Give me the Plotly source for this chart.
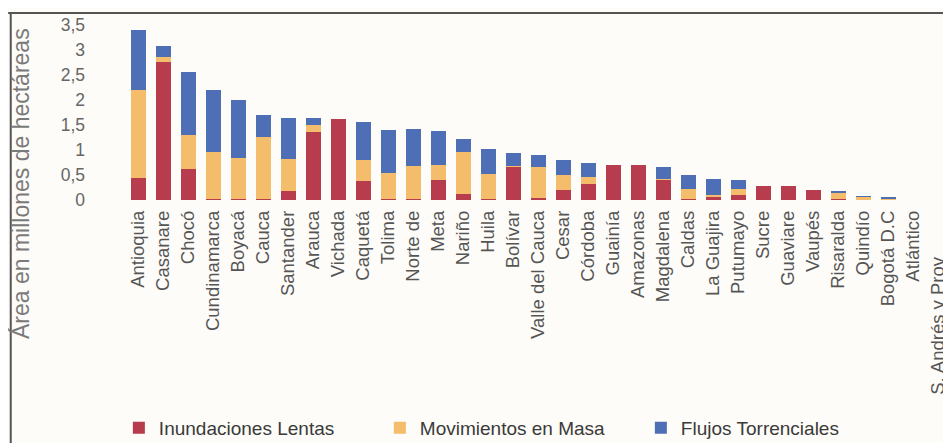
import plotly.graph_objects as go

departamentos = ["Antioquia", "Casanare", "Chocó", "Cundinamarca", "Boyacá", "Cauca",
                 "Santander", "Arauca", "Vichada", "Caquetá", "Tolima", "Norte de",
                 "Meta", "Nariño", "Huila", "Bolívar", "Valle del Cauca", "Cesar",
                 "Córdoba", "Guainía", "Amazonas", "Magdalena", "Caldas", "La Guajira",
                 "Putumayo", "Sucre", "Guaviare", "Vaupés", "Risaralda", "Quindío",
                 "Bogotá D.C", "Atlántico", "S. Andrés y Prov"]

inundaciones = [0.45, 2.77, 0.63, 0.03, 0.02, 0.02, 0.19, 1.37, 1.63, 0.39, 0.03, 0.02,
                0.40, 0.12, 0.02, 0.67, 0.04, 0.20, 0.33, 0.70, 0.70, 0.40, 0.02, 0.07,
                0.10, 0.29, 0.29, 0.20, 0.02, 0.01, 0.01, 0, 0]
movimientos = [1.75, 0.10, 0.68, 0.94, 0.83, 1.25, 0.64, 0.13, 0, 0.42, 0.52, 0.66,
               0.30, 0.85, 0.51, 0.02, 0.63, 0.30, 0.14, 0, 0, 0.02, 0.21, 0.03,
               0.13, 0, 0, 0, 0.12, 0.05, 0.02, 0, 0]
flujos = [1.21, 0.22, 1.26, 1.23, 1.16, 0.43, 0.82, 0.15, 0, 0.76, 0.86, 0.75,
          0.68, 0.25, 0.50, 0.26, 0.23, 0.31, 0.28, 0, 0, 0.25, 0.27, 0.33,
          0.18, 0, 0, 0, 0.05, 0.02, 0.02, 0, 0]

y_ticks = [0, 0.5, 1, 1.5, 2, 2.5, 3, 3.5]
y_ticktext = ["0", "0,5", "1", "1,5", "2", "2,5", "3", "3,5"]

# last label sits lower in the original: pad its end (top, once rotated) with no-break spaces
x_ticktext = departamentos[:-1] + [departamentos[-1] + "\u00a0" * 9]

FONT = "Liberation Sans, Arial, sans-serif"
BG = "#fdfcf8"

fig = go.Figure()
fig.add_trace(go.Bar(x=departamentos, y=inundaciones, name="Inundaciones Lentas",
                     marker=dict(color="#b73c4d", line=dict(width=0))))
fig.add_trace(go.Bar(x=departamentos, y=movimientos, name="Movimientos en Masa",
                     marker=dict(color="#f3bd6c", line=dict(width=0))))
fig.add_trace(go.Bar(x=departamentos, y=flujos, name="Flujos Torrenciales",
                     marker=dict(color="#4e6eb6", line=dict(width=0))))

# frame of the scanned chart (top and left edges)
fig.add_shape(type="line", xref="paper", yref="paper", x0=-0.09, x1=1.0, y0=1.0, y1=1.0,
              line=dict(color="#555555", width=2))
fig.add_shape(type="line", xref="paper", yref="paper", x0=-0.087, x1=-0.087, y0=1.0, y1=-1.4,
              line=dict(color="#555555", width=2))

fig.add_annotation(text="Área en millones de hectáreas", xref="paper", yref="paper",
                   x=-0.075, y=0.086, textangle=-90, showarrow=False,
                   xanchor="center", yanchor="middle",
                   font=dict(size=23, color="#7a7a7a", family=FONT))

fig.update_layout(
    barmode="stack",
    bargap=0.4,
    width=943,
    height=435,
    margin=dict(l=78, r=0, t=5, b=243, autoexpand=False),
    paper_bgcolor=BG,
    plot_bgcolor=BG,
    font=dict(family=FONT, color="#555555"),
    showlegend=True,
    legend=dict(orientation="h", x=0.038, y=-1.219, xanchor="left", yanchor="middle",
                traceorder="normal", font=dict(size=19, color="#3a3a3a"),
                entrywidth=216, entrywidthmode="pixels", itemwidth=30,
                bgcolor="rgba(0,0,0,0)"),
    xaxis=dict(range=[-2.08, 32.52], tickangle=-90, showgrid=False, showline=False,
               ticks="", tickvals=departamentos, ticktext=x_ticktext, ticklabelstandoff=6,
               tickfont=dict(size=18.5, color="#555555"), automargin=False),
    yaxis=dict(range=[0, 3.74], tickvals=y_ticks, ticktext=y_ticktext, showgrid=False,
               zeroline=False, showline=False, ticks="", tickfont=dict(size=17.5, color="#666666"),
               automargin=False),
)

fig.write_html("out.html")
